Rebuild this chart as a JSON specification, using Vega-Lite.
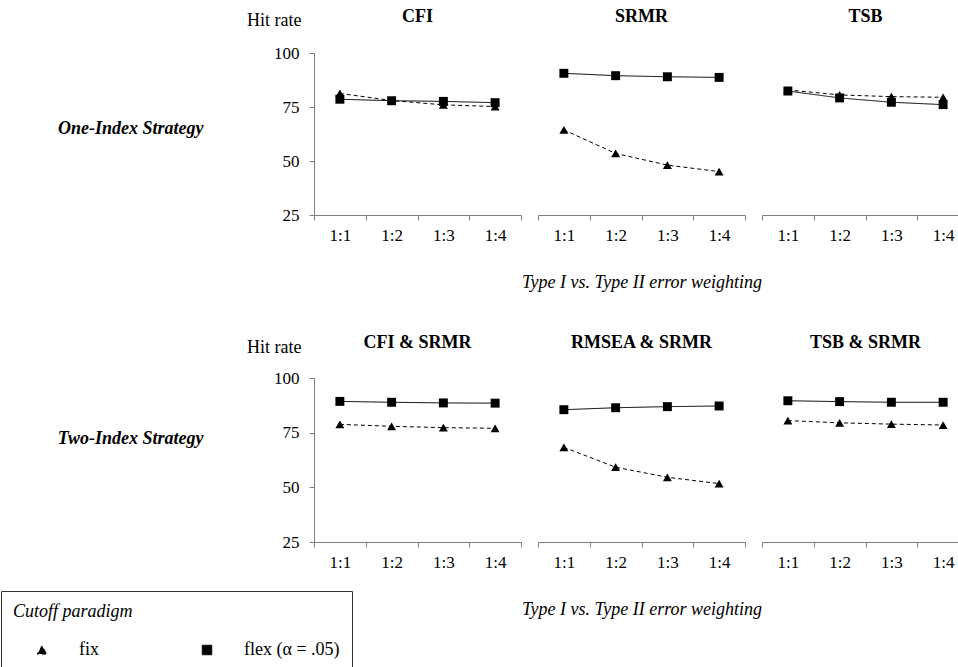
{
  "$schema": "https://vega.github.io/schema/vega-lite/v6.json",
  "padding": {"left": 0, "top": 8, "right": 0, "bottom": 0},
  "bounds": "flush",
  "spacing": 325,
  "datasets": {
    "hit": [
      {"strategy": "One-Index Strategy", "index": "CFI", "w": "1:1", "paradigm": "fix", "hit": 81.3},
      {"strategy": "One-Index Strategy", "index": "CFI", "w": "1:2", "paradigm": "fix", "hit": 78.0},
      {"strategy": "One-Index Strategy", "index": "CFI", "w": "1:3", "paradigm": "fix", "hit": 76.0},
      {"strategy": "One-Index Strategy", "index": "CFI", "w": "1:4", "paradigm": "fix", "hit": 75.2},
      {"strategy": "One-Index Strategy", "index": "CFI", "w": "1:1", "paradigm": "flex (α = .05)", "hit": 78.6},
      {"strategy": "One-Index Strategy", "index": "CFI", "w": "1:2", "paradigm": "flex (α = .05)", "hit": 77.9},
      {"strategy": "One-Index Strategy", "index": "CFI", "w": "1:3", "paradigm": "flex (α = .05)", "hit": 77.6},
      {"strategy": "One-Index Strategy", "index": "CFI", "w": "1:4", "paradigm": "flex (α = .05)", "hit": 77.0},
      {"strategy": "One-Index Strategy", "index": "SRMR", "w": "1:1", "paradigm": "fix", "hit": 64.4},
      {"strategy": "One-Index Strategy", "index": "SRMR", "w": "1:2", "paradigm": "fix", "hit": 53.5},
      {"strategy": "One-Index Strategy", "index": "SRMR", "w": "1:3", "paradigm": "fix", "hit": 48.1},
      {"strategy": "One-Index Strategy", "index": "SRMR", "w": "1:4", "paradigm": "fix", "hit": 45.1},
      {"strategy": "One-Index Strategy", "index": "SRMR", "w": "1:1", "paradigm": "flex (α = .05)", "hit": 90.6},
      {"strategy": "One-Index Strategy", "index": "SRMR", "w": "1:2", "paradigm": "flex (α = .05)", "hit": 89.5},
      {"strategy": "One-Index Strategy", "index": "SRMR", "w": "1:3", "paradigm": "flex (α = .05)", "hit": 89.0},
      {"strategy": "One-Index Strategy", "index": "SRMR", "w": "1:4", "paradigm": "flex (α = .05)", "hit": 88.7},
      {"strategy": "One-Index Strategy", "index": "TSB", "w": "1:1", "paradigm": "fix", "hit": 82.9},
      {"strategy": "One-Index Strategy", "index": "TSB", "w": "1:2", "paradigm": "fix", "hit": 80.6},
      {"strategy": "One-Index Strategy", "index": "TSB", "w": "1:3", "paradigm": "fix", "hit": 79.8},
      {"strategy": "One-Index Strategy", "index": "TSB", "w": "1:4", "paradigm": "fix", "hit": 79.5},
      {"strategy": "One-Index Strategy", "index": "TSB", "w": "1:1", "paradigm": "flex (α = .05)", "hit": 82.4},
      {"strategy": "One-Index Strategy", "index": "TSB", "w": "1:2", "paradigm": "flex (α = .05)", "hit": 79.2},
      {"strategy": "One-Index Strategy", "index": "TSB", "w": "1:3", "paradigm": "flex (α = .05)", "hit": 77.2},
      {"strategy": "One-Index Strategy", "index": "TSB", "w": "1:4", "paradigm": "flex (α = .05)", "hit": 76.1},
      {"strategy": "Two-Index Strategy", "index": "CFI & SRMR", "w": "1:1", "paradigm": "fix", "hit": 78.8},
      {"strategy": "Two-Index Strategy", "index": "CFI & SRMR", "w": "1:2", "paradigm": "fix", "hit": 77.9},
      {"strategy": "Two-Index Strategy", "index": "CFI & SRMR", "w": "1:3", "paradigm": "fix", "hit": 77.3},
      {"strategy": "Two-Index Strategy", "index": "CFI & SRMR", "w": "1:4", "paradigm": "fix", "hit": 77.0},
      {"strategy": "Two-Index Strategy", "index": "CFI & SRMR", "w": "1:1", "paradigm": "flex (α = .05)", "hit": 89.3},
      {"strategy": "Two-Index Strategy", "index": "CFI & SRMR", "w": "1:2", "paradigm": "flex (α = .05)", "hit": 88.9},
      {"strategy": "Two-Index Strategy", "index": "CFI & SRMR", "w": "1:3", "paradigm": "flex (α = .05)", "hit": 88.6},
      {"strategy": "Two-Index Strategy", "index": "CFI & SRMR", "w": "1:4", "paradigm": "flex (α = .05)", "hit": 88.5},
      {"strategy": "Two-Index Strategy", "index": "RMSEA & SRMR", "w": "1:1", "paradigm": "fix", "hit": 68.3},
      {"strategy": "Two-Index Strategy", "index": "RMSEA & SRMR", "w": "1:2", "paradigm": "fix", "hit": 59.2},
      {"strategy": "Two-Index Strategy", "index": "RMSEA & SRMR", "w": "1:3", "paradigm": "fix", "hit": 54.6},
      {"strategy": "Two-Index Strategy", "index": "RMSEA & SRMR", "w": "1:4", "paradigm": "fix", "hit": 51.7},
      {"strategy": "Two-Index Strategy", "index": "RMSEA & SRMR", "w": "1:1", "paradigm": "flex (α = .05)", "hit": 85.5},
      {"strategy": "Two-Index Strategy", "index": "RMSEA & SRMR", "w": "1:2", "paradigm": "flex (α = .05)", "hit": 86.4},
      {"strategy": "Two-Index Strategy", "index": "RMSEA & SRMR", "w": "1:3", "paradigm": "flex (α = .05)", "hit": 86.9},
      {"strategy": "Two-Index Strategy", "index": "RMSEA & SRMR", "w": "1:4", "paradigm": "flex (α = .05)", "hit": 87.2},
      {"strategy": "Two-Index Strategy", "index": "TSB & SRMR", "w": "1:1", "paradigm": "fix", "hit": 80.5},
      {"strategy": "Two-Index Strategy", "index": "TSB & SRMR", "w": "1:2", "paradigm": "fix", "hit": 79.5},
      {"strategy": "Two-Index Strategy", "index": "TSB & SRMR", "w": "1:3", "paradigm": "fix", "hit": 78.9},
      {"strategy": "Two-Index Strategy", "index": "TSB & SRMR", "w": "1:4", "paradigm": "fix", "hit": 78.5},
      {"strategy": "Two-Index Strategy", "index": "TSB & SRMR", "w": "1:1", "paradigm": "flex (α = .05)", "hit": 89.6},
      {"strategy": "Two-Index Strategy", "index": "TSB & SRMR", "w": "1:2", "paradigm": "flex (α = .05)", "hit": 89.2},
      {"strategy": "Two-Index Strategy", "index": "TSB & SRMR", "w": "1:3", "paradigm": "flex (α = .05)", "hit": 88.9},
      {"strategy": "Two-Index Strategy", "index": "TSB & SRMR", "w": "1:4", "paradigm": "flex (α = .05)", "hit": 88.9}
    ]
  },
  "vconcat": [
    {
      "bounds": "flush",
      "spacing": 17,
      "hconcat": [
        {
          "width": 207, "height": 162,
          "data": {"name": "hit"},
          "transform": [{"filter": "datum.index === 'CFI'"}],
          "title": {"text": "CFI", "offset": -15},
          "encoding": {
            "x": {"field": "w", "type": "ordinal", "scale": {"type": "band", "paddingInner": 0, "paddingOuter": 0}, "axis": {"title": null}}
          },
          "resolve": {"axis": {"y": "independent"}},
          "layer": [
            {"mark": {"type": "line", "color": "black", "strokeWidth": 1}, "encoding": {
              "y": {"field": "hit", "type": "quantitative", "scale": {"domain": [25, 100], "nice": false, "zero": false}, "axis": {"orient": "left", "values": [25, 50, 75, 100], "title": "Hit rate", "titleAngle": 0, "titleAlign": "right", "titleBaseline": "alphabetic", "titleX": -13, "titleY": -28}},
              "strokeDash": {"field": "paradigm", "type": "nominal", "scale": {"domain": ["fix", "flex (α = .05)"], "range": [[4, 3], [1, 0]]}}}},
            {"mark": {"type": "point", "filled": true, "color": "black", "opacity": 1, "size": 80}, "encoding": {
              "y": {"field": "hit", "type": "quantitative", "scale": {"domain": [25, 100], "nice": false, "zero": false}, "axis": {"orient": "left", "domain": false, "ticks": false, "labels": false, "title": "One-Index Strategy", "titleAngle": 0, "titleAlign": "right", "titleBaseline": "middle", "titleX": -111, "titleY": 75, "titleFontStyle": "italic", "titleFontWeight": "bold"}},
              "shape": {"field": "paradigm", "type": "nominal", "scale": {"domain": ["fix", "flex (α = .05)"], "range": ["triangle-up", "square"]}}}}
          ]
        },
        {
          "width": 207, "height": 162,
          "data": {"name": "hit"},
          "transform": [{"filter": "datum.index === 'SRMR'"}],
          "title": {"text": "SRMR", "offset": 27},
          "encoding": {
            "x": {"field": "w", "type": "ordinal", "scale": {"type": "band", "paddingInner": 0, "paddingOuter": 0}, "axis": {"title": "Type I vs. Type II error weighting"}},
            "y": {"field": "hit", "type": "quantitative", "scale": {"domain": [25, 100], "nice": false, "zero": false}, "axis": null}
          },
          "layer": [
            {"mark": {"type": "line", "color": "black", "strokeWidth": 1}, "encoding": {"strokeDash": {"field": "paradigm", "type": "nominal", "scale": {"domain": ["fix", "flex (α = .05)"], "range": [[4, 3], [1, 0]]}}}},
            {"mark": {"type": "point", "filled": true, "color": "black", "opacity": 1, "size": 80}, "encoding": {"shape": {"field": "paradigm", "type": "nominal", "scale": {"domain": ["fix", "flex (α = .05)"], "range": ["triangle-up", "square"]}}}}
          ]
        },
        {
          "width": 207, "height": 162,
          "data": {"name": "hit"},
          "transform": [{"filter": "datum.index === 'TSB'"}],
          "title": {"text": "TSB", "offset": 27},
          "encoding": {
            "x": {"field": "w", "type": "ordinal", "scale": {"type": "band", "paddingInner": 0, "paddingOuter": 0}, "axis": {"title": null}},
            "y": {"field": "hit", "type": "quantitative", "scale": {"domain": [25, 100], "nice": false, "zero": false}, "axis": null}
          },
          "layer": [
            {"mark": {"type": "line", "color": "black", "strokeWidth": 1}, "encoding": {"strokeDash": {"field": "paradigm", "type": "nominal", "scale": {"domain": ["fix", "flex (α = .05)"], "range": [[4, 3], [1, 0]]}}}},
            {"mark": {"type": "point", "filled": true, "color": "black", "opacity": 1, "size": 80}, "encoding": {"shape": {"field": "paradigm", "type": "nominal", "scale": {"domain": ["fix", "flex (α = .05)"], "range": ["triangle-up", "square"]}}}}
          ]
        }
      ]
    },
    {
      "bounds": "flush",
      "spacing": 17,
      "hconcat": [
        {
          "width": 207, "height": 164,
          "data": {"name": "hit"},
          "transform": [{"filter": "datum.index === 'CFI & SRMR'"}],
          "title": {"text": "CFI & SRMR", "offset": -14},
          "encoding": {
            "x": {"field": "w", "type": "ordinal", "scale": {"type": "band", "paddingInner": 0, "paddingOuter": 0}, "axis": {"title": null}}
          },
          "resolve": {"axis": {"y": "independent"}},
          "layer": [
            {"mark": {"type": "line", "color": "black", "strokeWidth": 1}, "encoding": {
              "y": {"field": "hit", "type": "quantitative", "scale": {"domain": [25, 100], "nice": false, "zero": false}, "axis": {"orient": "left", "values": [25, 50, 75, 100], "title": "Hit rate", "titleAngle": 0, "titleAlign": "right", "titleBaseline": "alphabetic", "titleX": -13, "titleY": -26}},
              "strokeDash": {"field": "paradigm", "type": "nominal", "scale": {"domain": ["fix", "flex (α = .05)"], "range": [[4, 3], [1, 0]]}}}},
            {"mark": {"type": "point", "filled": true, "color": "black", "opacity": 1, "size": 80}, "encoding": {
              "y": {"field": "hit", "type": "quantitative", "scale": {"domain": [25, 100], "nice": false, "zero": false}, "axis": {"orient": "left", "domain": false, "ticks": false, "labels": false, "title": "Two-Index Strategy", "titleAngle": 0, "titleAlign": "right", "titleBaseline": "middle", "titleX": -111, "titleY": 60, "titleFontStyle": "italic", "titleFontWeight": "bold"}},
              "shape": {"field": "paradigm", "type": "nominal", "scale": {"domain": ["fix", "flex (α = .05)"], "range": ["triangle-up", "square"]},
              "legend": {"title": "Cutoff paradigm", "orient": "none", "legendX": -313, "legendY": 538, "direction": "horizontal", "columns": 2, "columnPadding": 79, "padding": 12, "titlePadding": 20, "strokeColor": "#333333", "titleFontStyle": "italic", "titleFontWeight": "normal", "titleFontSize": 18, "titleFont": "Liberation Serif", "titleColor": "black", "labelFontSize": 18, "labelFont": "Liberation Serif", "labelColor": "black", "labelOffset": 28, "symbolOffset": 20, "symbolSize": 90, "symbolStrokeWidth": 1, "symbolStrokeColor": "black", "symbolFillColor": "black"}}}}
          ]
        },
        {
          "width": 207, "height": 164,
          "data": {"name": "hit"},
          "transform": [{"filter": "datum.index === 'RMSEA & SRMR'"}],
          "title": {"text": "RMSEA & SRMR", "offset": 26},
          "encoding": {
            "x": {"field": "w", "type": "ordinal", "scale": {"type": "band", "paddingInner": 0, "paddingOuter": 0}, "axis": {"title": "Type I vs. Type II error weighting"}},
            "y": {"field": "hit", "type": "quantitative", "scale": {"domain": [25, 100], "nice": false, "zero": false}, "axis": null}
          },
          "layer": [
            {"mark": {"type": "line", "color": "black", "strokeWidth": 1}, "encoding": {"strokeDash": {"field": "paradigm", "type": "nominal", "scale": {"domain": ["fix", "flex (α = .05)"], "range": [[4, 3], [1, 0]]}}}},
            {"mark": {"type": "point", "filled": true, "color": "black", "opacity": 1, "size": 80}, "encoding": {"shape": {"field": "paradigm", "type": "nominal", "scale": {"domain": ["fix", "flex (α = .05)"], "range": ["triangle-up", "square"]}}}}
          ]
        },
        {
          "width": 207, "height": 164,
          "data": {"name": "hit"},
          "transform": [{"filter": "datum.index === 'TSB & SRMR'"}],
          "title": {"text": "TSB & SRMR", "offset": 26},
          "encoding": {
            "x": {"field": "w", "type": "ordinal", "scale": {"type": "band", "paddingInner": 0, "paddingOuter": 0}, "axis": {"title": null}},
            "y": {"field": "hit", "type": "quantitative", "scale": {"domain": [25, 100], "nice": false, "zero": false}, "axis": null}
          },
          "layer": [
            {"mark": {"type": "line", "color": "black", "strokeWidth": 1}, "encoding": {"strokeDash": {"field": "paradigm", "type": "nominal", "scale": {"domain": ["fix", "flex (α = .05)"], "range": [[4, 3], [1, 0]]}}}},
            {"mark": {"type": "point", "filled": true, "color": "black", "opacity": 1, "size": 80}, "encoding": {"shape": {"field": "paradigm", "type": "nominal", "scale": {"domain": ["fix", "flex (α = .05)"], "range": ["triangle-up", "square"]}}}}
          ]
        }
      ]
    }
  ],
  "config": {
    "font": "Liberation Serif",
    "view": {"stroke": null},
    "background": "white",
    "title": {"font": "Liberation Serif", "fontSize": 18, "fontWeight": "bold", "color": "black", "baseline": "alphabetic", "frame": "group", "anchor": "middle"},
    "axis": {"grid": false, "domainColor": "#808080", "tickColor": "#808080", "tickSize": 5, "labelFont": "Liberation Serif", "labelFontSize": 17, "labelColor": "black", "titleFont": "Liberation Serif", "titleFontSize": 18, "titleColor": "black", "titleFontWeight": "normal"},
    "axisX": {"labelAngle": 0, "tickBand": "extent", "labelPadding": 7, "titlePadding": 30, "titleFontStyle": "italic"},
    "axisY": {"labelPadding": 10}
  }
}
